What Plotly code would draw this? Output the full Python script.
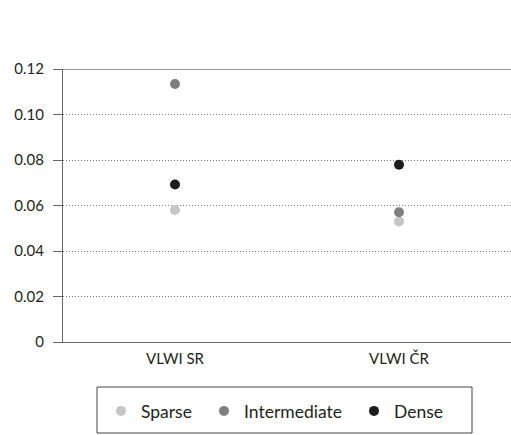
import plotly.graph_objects as go

categories = ["VLWI SR", "VLWI ČR"]
sparse = [0.058, 0.053]
intermediate = [0.1134, 0.057]
dense = [0.0692, 0.0779]
y_ticks = [0, 0.02, 0.04, 0.06, 0.08, 0.10, 0.12]
y_tick_labels = ["0", "0.02", "0.04", "0.06", "0.08", "0.10", "0.12"]

series = [("Sparse", sparse, "#c6c6c6", "legend"),
          ("Intermediate", intermediate, "#7f7f7f", "legend2"),
          ("Dense", dense, "#1e1c1d", "legend3")]

fig = go.Figure()
for name, vals, col, lg in series:
    fig.add_trace(go.Scatter(x=categories, y=vals, mode="markers", name=name,
                             marker=dict(size=10, color=col), legend=lg))

font = dict(family="Lato, Open Sans, sans-serif", size=15, color="#231f20")
lfont = dict(family="Lato, Open Sans, sans-serif", size=17.5, color="#231f20")
leg_common = dict(orientation="h", yanchor="middle", xanchor="left",
                  bgcolor="rgba(0,0,0,0)", font=lfont, itemwidth=30)
PH = 273.0
PW = 448.0
LY = -(411 - 342) / PH
fig.update_layout(
    width=511, height=435,
    margin=dict(l=63, r=0, t=69, b=93, autoexpand=False),
    plot_bgcolor="white", paper_bgcolor="white",
    font=font,
    showlegend=True,
    legend=dict(x=(101 - 63) / PW, y=LY, **leg_common),
    legend2=dict(x=(204 - 63) / PW, y=LY, **leg_common),
    legend3=dict(x=(354 - 63) / PW, y=LY, **leg_common),
    xaxis=dict(type="category", range=[-0.5, 1.5], showgrid=False,
               showline=True, linecolor="#666666", linewidth=1,
               ticks="", tickfont=font, ticklabelstandoff=3),
    yaxis=dict(range=[0, 0.12], tickvals=y_ticks, ticktext=y_tick_labels,
               showgrid=True, gridcolor="#777777", griddash="1px,2px", gridwidth=1,
               showline=True, linecolor="#666666", linewidth=1,
               ticks="outside", ticklen=9, tickcolor="#666666",
               ticklabelstandoff=6,
               zeroline=False, tickfont=font),
    shapes=[
        dict(type="line", xref="paper", yref="y", x0=0, x1=1, y0=0.12, y1=0.12,
             line=dict(color="#777777", width=1.5)),
        dict(type="rect", xref="paper", yref="paper",
             x0=(97 - 63) / PW, x1=(472 - 63) / PW,
             y0=-(433 - 342) / PH, y1=-(387 - 342) / PH,
             line=dict(color="#444444", width=1)),
    ],
)
fig.write_html(
    "out.html",
    config={"displayModeBar": False},
    post_script="document.body.style.margin='0';document.body.style.overflow='hidden';"
                "document.documentElement.style.overflow='hidden';",
)
